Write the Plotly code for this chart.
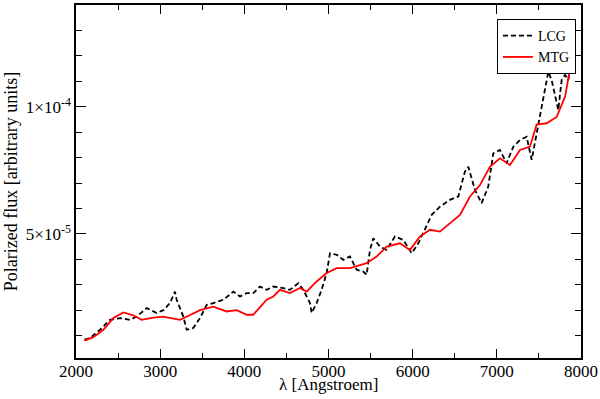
import plotly.graph_objects as go

SCALE = 1e-5  # values below are in units of 1e-5

mtg_wl = [2100, 2206, 2325, 2444, 2562, 2680, 2780, 2900, 3035, 3235, 3350, 3473, 3630, 3790,
          3909, 4028, 4106, 4265, 4344, 4423, 4542, 4661, 4740, 4859, 4978, 5097, 5255, 5335,
          5453, 5572, 5691, 5849, 5968, 6087, 6206, 6324, 6443, 6562, 6681, 6800, 6918, 7037,
          7156, 7275, 7394, 7473, 7592, 7711, 7810, 7849, 7889, 7910]
mtg_val = [0.80, 0.94, 1.23, 1.69, 1.91, 1.80, 1.62, 1.70, 1.75, 1.62, 1.80, 2.00, 2.14, 1.95,
           2.00, 1.82, 1.82, 2.41, 2.54, 2.80, 2.67, 2.87, 2.73, 3.13, 3.46, 3.65, 3.65, 3.72,
           3.85, 4.11, 4.50, 4.63, 4.37, 4.90, 5.16, 5.09, 5.42, 5.75, 6.47, 6.92, 7.64, 7.97,
           7.71, 8.30, 8.43, 9.30, 9.35, 9.60, 10.39, 11.05, 11.83, 12.50]

lcg_wl = [2100, 2166, 2285, 2325, 2404, 2523, 2641, 2721, 2840, 2959, 3038, 3117, 3176, 3196,
          3275, 3315, 3394, 3473, 3553, 3632, 3751, 3870, 3948, 4028, 4106, 4186, 4265, 4344,
          4463, 4542, 4641, 4700, 4780, 4800, 4859, 4918, 4978, 5018, 5097, 5176, 5255, 5335,
          5414, 5453, 5493, 5532, 5612, 5691, 5790, 5888, 5988, 6067, 6126, 6226, 6324, 6443,
          6542, 6621, 6661, 6740, 6819, 6898, 6958, 7037, 7116, 7196, 7275, 7354, 7414, 7473,
          7533, 7572, 7612, 7651, 7691, 7730, 7770, 7810, 7849, 7889, 7910]
lcg_val = [0.84, 0.90, 1.23, 1.36, 1.62, 1.69, 1.62, 1.75, 2.08, 1.89, 2.00, 2.28, 2.73, 2.41,
           1.75, 1.23, 1.30, 1.69, 2.21, 2.28, 2.41, 2.73, 2.54, 2.67, 2.67, 2.93, 2.80, 2.93,
           2.87, 2.80, 3.06, 2.80, 2.28, 1.89, 2.28, 2.80, 3.46, 4.24, 4.18, 3.98, 4.11, 3.59,
           3.52, 3.39, 4.37, 4.83, 4.50, 4.37, 4.90, 4.76, 4.24, 4.63, 5.03, 5.75, 6.07, 6.34,
           6.47, 7.45, 7.64, 6.73, 6.21, 6.86, 8.17, 8.30, 7.78, 8.43, 8.69, 8.82, 7.91, 8.95,
           10.00, 10.79, 11.38, 11.05, 10.39, 9.87, 11.05, 11.25, 11.05, 11.83, 12.40]

assert len(mtg_wl) == len(mtg_val)
assert len(lcg_wl) == len(lcg_val)

x_ticks = [2000, 3000, 4000, 5000, 6000, 7000, 8000]
y_ticks = [5e-5, 1e-4]
y_ticktext = ["5×10<sup>-5</sup>", "1×10<sup>-4</sup>"]
x_title = "λ [Angstroem]"
y_title = "Polarized flux [arbitrary units]"

FONT = "Liberation Serif, Times New Roman, Times, serif"

fig = go.Figure()
fig.add_trace(go.Scatter(
    x=lcg_wl, y=[v * SCALE for v in lcg_val], mode="lines", name="LCG",
    line=dict(color="black", width=1.8, dash="5px,3px")))
fig.add_trace(go.Scatter(
    x=mtg_wl, y=[v * SCALE for v in mtg_val], mode="lines", name="MTG",
    line=dict(color="#ff0000", width=1.8)))

axis_common = dict(
    showline=True, linecolor="black", linewidth=1.5, mirror="ticks",
    ticks="inside", tickcolor="black", tickwidth=1.2,
    showgrid=False, zeroline=False, automargin=False,
    tickfont=dict(family=FONT, size=17, color="black"),
)

fig.update_xaxes(
    range=[2000, 8000], tickmode="array", tickvals=x_ticks, ticklen=9, ticklabelstandoff=-3,
    minor=dict(dtick=500, tick0=2000, ticks="inside", ticklen=5, tickcolor="black", tickwidth=1.2),
    **axis_common)
fig.update_yaxes(
    range=[1.2e-6, 1.4e-4], tickmode="array", tickvals=y_ticks, ticktext=y_ticktext, ticklen=10,
    minor=dict(dtick=1e-5, tick0=0, ticks="inside", ticklen=6, tickcolor="black", tickwidth=1.2),
    title=dict(text=y_title, font=dict(family=FONT, size=18, color="black"), standoff=4),
    **axis_common)

fig.add_annotation(text=x_title, xref="paper", yref="paper", x=0.5, y=-0.046,
                   xanchor="center", yanchor="top", showarrow=False, borderpad=0,
                   font=dict(family=FONT, size=17, color="black"))

fig.update_layout(
    width=600, height=399,
    margin=dict(l=76, r=19, t=5, b=41, autoexpand=False),
    paper_bgcolor="white", plot_bgcolor="white",
    showlegend=True,
    legend=dict(x=0.99, y=0.96, xanchor="right", yanchor="top",
                bordercolor="black", borderwidth=1, bgcolor="white",
                font=dict(family=FONT, size=14, color="black"),
                itemwidth=30, tracegroupgap=0),
)

fig.write_html("out.html", config={"displayModeBar": False},
               post_script="document.body.style.margin='0';")
